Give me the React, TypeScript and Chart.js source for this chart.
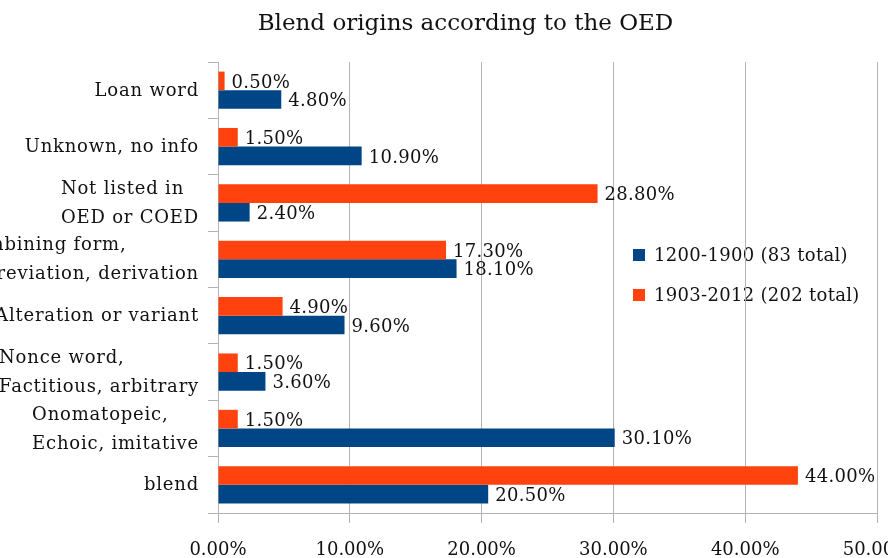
import React, { useEffect, useRef } from "react";
import { Chart, registerables } from "chart.js";

Chart.register(...registerables);

const chartTitle = "Blend origins according to the OED";
const categories: (string | string[])[] = [
  "Loan word",
  "Unknown, no info",
  ["Not listed in", "OED or COED"],
  ["Combining form,", "abbreviation, derivation"],
  "Alteration or variant",
  ["Nonce word,", "Factitious, arbitrary"],
  ["Onomatopeic,", "Echoic, imitative"],
  "blend",
];
const series1903to2012 = [0.5, 1.5, 28.8, 17.3, 4.9, 1.5, 1.5, 44.0];
const series1200to1900 = [4.8, 10.9, 2.4, 18.1, 9.6, 3.6, 30.1, 20.5];
const legendLabels = ["1200-1900 (83 total)", "1903-2012 (202 total)"];
const xMin = 0;
const xMax = 50;
const xStep = 10;

const BLUE = "#004586";
const ORANGE = "#ff420e";
const GRID = "#b3b3b3";
const TEXT = "#111111";
const FONT = '"DejaVu Serif"';

const yLabelPlugin = {
  id: "yLabelPlugin",
  afterDraw(chart: any) {
    const ctx = chart.ctx;
    const y = chart.scales.y;
    ctx.save();
    ctx.font = `18px ${FONT}`;
    (ctx as any).letterSpacing = "0.8px";
    ctx.fillStyle = TEXT;
    ctx.textBaseline = "middle";
    ctx.textAlign = "left";
    const right = y.right - 19;
    const lh = 29;
    categories.forEach((lab, i) => {
      const lines = Array.isArray(lab) ? lab : [lab];
      const w = Math.max(...lines.map((l) => ctx.measureText(l).width));
      const cy = y.getPixelForTick(i);
      lines.forEach((l, j) => {
        ctx.fillText(l, right - w, cy + (j - (lines.length - 1) / 2) * lh + 1);
      });
    });
    ctx.restore();
  },
};

const dataLabelPlugin = {
  id: "dataLabelPlugin",
  afterDatasetsDraw(chart: any) {
    const ctx = chart.ctx;
    ctx.save();
    ctx.font = `18px ${FONT}`;
    (ctx as any).letterSpacing = "0.3px";
    ctx.fillStyle = TEXT;
    ctx.textBaseline = "middle";
    ctx.textAlign = "left";
    chart.data.datasets.forEach((ds: any, di: number) => {
      const meta = chart.getDatasetMeta(di);
      meta.data.forEach((bar: any, i: number) => {
        const v = ds.data[i] as number;
        ctx.fillText(v.toFixed(2) + "%", bar.x + 7, bar.y + 2);
      });
    });
    ctx.restore();
  },
};

const legendPlugin = {
  id: "legendPlugin",
  beforeDraw(chart: any) {
    const ctx = chart.ctx;
    const area = chart.chartArea;
    const colors = [BLUE, ORANGE];
    ctx.save();
    ctx.font = `18px ${FONT}`;
    (ctx as any).letterSpacing = "0.3px";
    ctx.textBaseline = "middle";
    ctx.textAlign = "left";
    legendLabels.forEach((lab, i) => {
      const cy = area.top + 193 + i * 40;
      const x = area.left + 415;
      ctx.fillStyle = colors[i];
      ctx.fillRect(x, cy - 6, 12, 12);
      ctx.fillStyle = TEXT;
      ctx.fillText(lab, x + 21, cy + 1);
    });
    ctx.restore();
  },
};

export default function App() {
  const ref = useRef<HTMLCanvasElement | null>(null);

  useEffect(() => {
    document.body.style.margin = "0";
    const canvas = ref.current;
    if (!canvas) return;
    const chart = new Chart(canvas, {
      type: "bar",
      data: {
        labels: categories.map((c) => (Array.isArray(c) ? c.join(" ") : c)),
        datasets: [
          {
            label: legendLabels[1],
            data: series1903to2012,
            backgroundColor: ORANGE,
            categoryPercentage: 0.66,
            barPercentage: 1,
          },
          {
            label: legendLabels[0],
            data: series1200to1900,
            backgroundColor: BLUE,
            categoryPercentage: 0.66,
            barPercentage: 1,
          },
        ],
      },
      options: {
        indexAxis: "y",
        animation: false,
        responsive: false,
        layout: { padding: { top: 0, right: 11, bottom: 0, left: 54 } },
        plugins: {
          legend: { display: false },
          tooltip: { enabled: false },
          title: {
            display: true,
            text: chartTitle,
            color: TEXT,
            font: { family: FONT, size: 23, weight: "normal" },
            padding: { top: 10, bottom: 24.4 },
          },
        },
        scales: {
          x: {
            type: "linear",
            min: xMin,
            max: xMax,
            ticks: {
              stepSize: xStep,
              color: TEXT,
              font: { family: FONT, size: 18 },
              padding: 17,
              callback: (v: any) => Number(v).toFixed(2) + "%",
            },
            grid: { color: GRID, tickLength: 10, drawTicks: true },
            border: { display: true, color: GRID },
            afterFit: (s: any) => {
              s.height = 45;
              s.paddingLeft = 0;
              s.paddingRight = 0;
            },
          },
          y: {
            type: "category",
            ticks: { display: false },
            grid: {
              drawOnChartArea: false,
              drawTicks: true,
              tickLength: 10,
              color: GRID,
              offset: true,
            },
            border: { display: true, color: GRID },
            afterFit: (s: any) => {
              s.width = 164;
              s.paddingTop = 0;
              s.paddingBottom = 0;
            },
          },
        },
      },
      plugins: [legendPlugin, dataLabelPlugin, yLabelPlugin],
    } as any);
    return () => chart.destroy();
  }, []);

  return (
    <div style={{ width: 888, height: 558, overflow: "hidden", background: "#ffffff" }}>
      <canvas ref={ref} width={888} height={558} style={{ display: "block" }} />
    </div>
  );
}
